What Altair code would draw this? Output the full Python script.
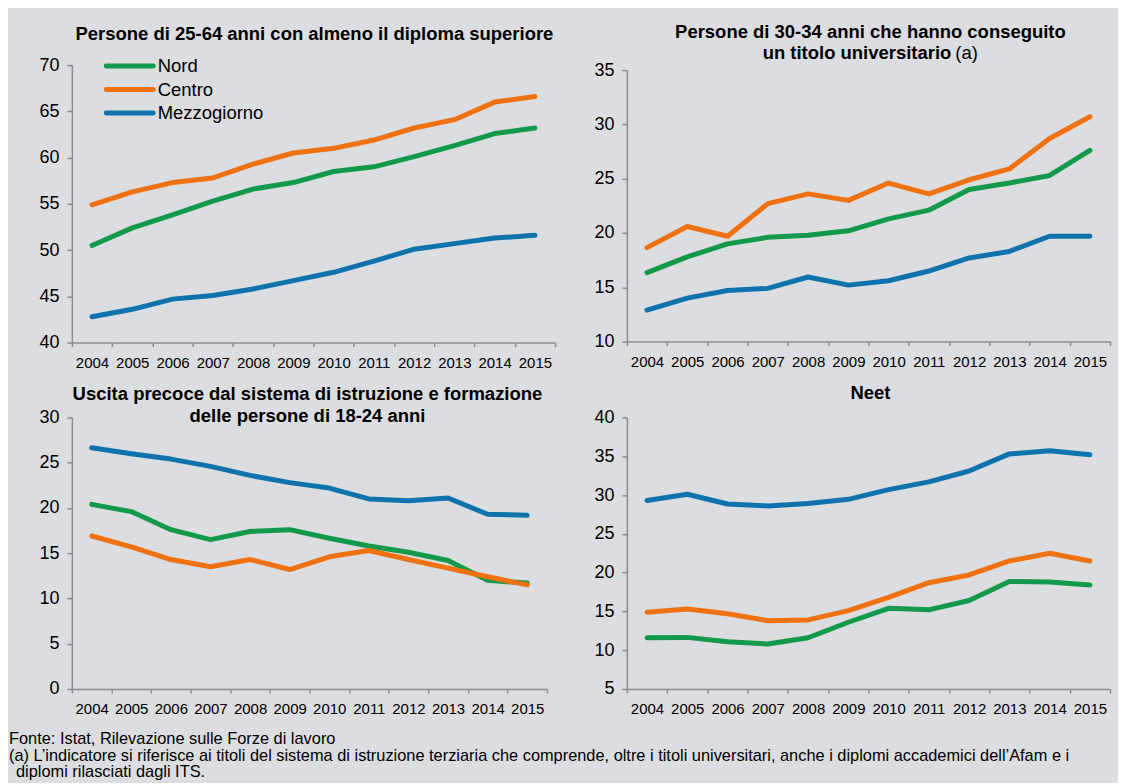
import altair as alt
import pandas as pd

years = [str(y) for y in range(2004, 2016)]
regions = ["Nord", "Centro", "Mezzogiorno"]
colors = ["#12994a", "#ef7110", "#0e72ad"]

dip_nord = [50.5, 52.4, 53.8, 55.3, 56.6, 57.3, 58.5, 59.0, 60.1, 61.3, 62.6, 63.2]
dip_centro = [54.9, 56.3, 57.3, 57.8, 59.3, 60.5, 61.0, 61.9, 63.2, 64.1, 66.0, 66.6]
dip_mezz = [42.8, 43.6, 44.7, 45.1, 45.8, 46.7, 47.6, 48.8, 50.1, 50.7, 51.3, 51.6]

uni_nord = [16.35, 17.8, 19.0, 19.6, 19.8, 20.2, 21.3, 22.1, 24.0, 24.6, 25.3, 27.6]
uni_centro = [18.65, 20.6, 19.7, 22.7, 23.6, 23.0, 24.6, 23.6, 24.9, 25.9, 28.7, 30.7]
uni_mezz = [12.9, 14.0, 14.7, 14.9, 15.95, 15.2, 15.6, 16.5, 17.7, 18.3, 19.7, 19.7]

usc_nord = [20.4, 19.6, 17.6, 16.5, 17.4, 17.6, 16.65, 15.8, 15.1, 14.2, 12.0, 11.7]
usc_centro = [16.9, 15.7, 14.3, 13.5, 14.3, 13.2, 14.6, 15.3, 14.3, 13.35, 12.4, 11.5]
usc_mezz = [26.65, 26.0, 25.4, 24.6, 23.6, 22.8, 22.2, 21.0, 20.8, 21.1, 19.3, 19.2]

neet_nord = [11.6, 11.65, 11.1, 10.8, 11.6, 13.6, 15.4, 15.2, 16.4, 18.85, 18.8, 18.4]
neet_centro = [14.9, 15.3, 14.7, 13.8, 13.9, 15.1, 16.8, 18.7, 19.7, 21.5, 22.5, 21.5]
neet_mezz = [29.3, 30.1, 28.85, 28.6, 28.9, 29.45, 30.7, 31.7, 33.1, 35.3, 35.7, 35.2]

title1 = "Persone di 25-64 anni con almeno il diploma superiore"
title2a = "Persone di 30-34 anni che hanno conseguito"
title2b = "un titolo universitario"
title2c = "(a)"
title3a = "Uscita precoce dal sistema di istruzione e formazione"
title3b = "delle persone di 18-24 anni"
title4 = "Neet"
foot1 = "Fonte: Istat, Rilevazione sulle Forze di lavoro"
foot2 = ("(a) L\u2019indicatore si riferisce ai titoli del sistema di istruzione terziaria che comprende, "
         "oltre i titoli universitari, anche i diplomi accademici dell\u2019Afam e i")
foot3 = "diplomi rilasciati dagli ITS."

FONT = "Liberation Sans"
TS = 18.5   # title size
FS = 16.4   # footnote size


def frame(series):
    rows = []
    for reg, vals in zip(regions, series):
        for yr, v in zip(years, vals):
            rows.append({"year": yr, "region": reg, "value": v})
    return pd.DataFrame(rows)


def text_layer(txt, x, y, size=TS, weight="bold", align="center"):
    return alt.Chart(pd.DataFrame({"t": [txt]})).mark_text(
        font=FONT, fontSize=size, fontWeight=weight, align=align,
        baseline="middle", color="black"
    ).encode(text="t:N", x=alt.value(x), y=alt.value(y))


def panel(series, ymin, ymax, step, w, h, extra, yrange=None):
    sc = dict(domain=[ymin, ymax], nice=False, zero=False)
    if yrange is not None:
        sc["range"] = yrange
    lines = alt.Chart(frame(series)).mark_line(
        strokeWidth=5, strokeCap="round", strokeJoin="round"
    ).encode(
        x=alt.X("year:O", sort=years,
                scale=alt.Scale(type="band", paddingInner=0, paddingOuter=0),
                axis=alt.Axis(title=None, labelAngle=0, tickBand="extent")),
        y=alt.Y("value:Q", scale=alt.Scale(**sc),
                axis=alt.Axis(title=None, grid=False,
                              values=list(range(ymin, ymax + 1, step)))),
        color=alt.Color("region:N", scale=alt.Scale(domain=regions, range=colors),
                        legend=None),
    )
    return alt.layer(lines, *extra).properties(width=w, height=h)


# legend (panel 1)
legend_layers = []
for i, (reg, col) in enumerate(zip(regions, colors)):
    ly = 1 + i * 23.5
    legend_layers.append(
        alt.Chart(pd.DataFrame({"r": [reg]})).mark_rule(
            strokeWidth=5, strokeCap="round", color=col
        ).encode(x=alt.value(34.5), x2=alt.value(81.5), y=alt.value(ly))
    )
    legend_layers.append(text_layer(reg, 86, ly, size=18.5, weight="normal", align="left"))

p1 = panel([dip_nord, dip_centro, dip_mezz], 40, 70, 5, 484, 278,
           [text_layer(title1, 243, -31.5)] + legend_layers)

p2 = panel([uni_nord, uni_centro, uni_mezz], 10, 35, 5, 484, 277,
           [text_layer(title2a, 244, -33.5),
            text_layer(title2b, 325, -12.5, align="right"),
            text_layer(title2c, 329, -12.5, weight="normal", align="left")],
           yrange=[277, 5])

p3 = panel([usc_nord, usc_centro, usc_mezz], 0, 30, 5, 476, 272,
           [text_layer(title3a, 236, -23),
            text_layer(title3b, 236, -1.5),
            text_layer(foot1, -63, 322.5, size=FS, weight="normal", align="left"),
            text_layer(foot2, -63, 339, size=FS, weight="normal", align="left"),
            text_layer(foot3, -56, 355.5, size=FS, weight="normal", align="left")])

p4 = panel([neet_nord, neet_centro, neet_mezz], 5, 40, 5, 484, 272,
           [text_layer(title4, 244, -24)])

chart = alt.concat(p1, p2, p3, p4, columns=2, spacing={"row": 75, "column": 72},
                   bounds="flush").properties(
    background="#dcdde0",
    padding={"left": 0, "top": 13.5, "right": 6, "bottom": 0},
).configure_view(
    stroke="transparent"
).configure_axis(
    domainColor="#8c8c8c", tickColor="#8c8c8c", domainWidth=1.5, tickWidth=1.5,
    labelFont=FONT, labelColor="black",
).configure_axisX(
    tickSize=4, labelPadding=9, labelFontSize=15
).configure_axisY(
    tickSize=5, labelPadding=8, labelFontSize=18
)

chart.save("out.html", embed_options={"renderer": "svg", "actions": False})
